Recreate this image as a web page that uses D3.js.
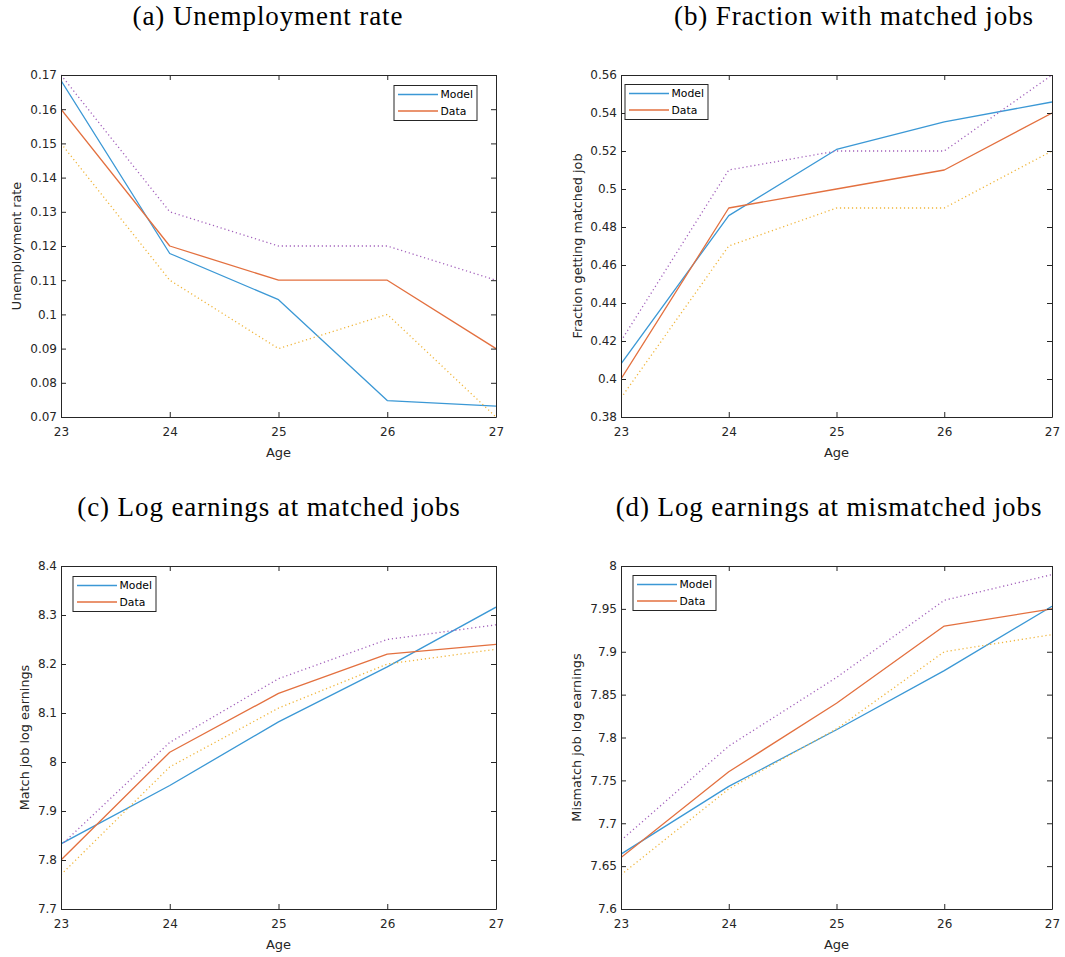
<!DOCTYPE html>
<html>
<head>
<meta charset="utf-8">
<script src="https://cdn.jsdelivr.net/npm/d3@7"></script>
<style>
  html, body { margin: 0; padding: 0; background: #fff; }
  svg { display: block; }
</style>
</head>
<body>
<svg id="fig" width="1065" height="957"></svg>
<script>
// Ages on the horizontal axis (shared by all panels)
const ages = [23, 24, 25, 26, 27];
const ageTicks = [23, 24, 25, 26, 27];

// (a) Unemployment rate
const unempModel = [0.1684, 0.1178, 0.1043, 0.0748, 0.0732];
const unempData  = [0.16, 0.12, 0.11, 0.11, 0.09];
const unempLower = [0.15, 0.11, 0.09, 0.10, 0.07];
const unempUpper = [0.17, 0.13, 0.12, 0.12, 0.11];
const unempTicks = [0.07, 0.08, 0.09, 0.10, 0.11, 0.12, 0.13, 0.14, 0.15, 0.16, 0.17];

// (b) Fraction getting matched job
const matchModel = [0.408, 0.486, 0.5208, 0.5353, 0.5458];
const matchData  = [0.40, 0.49, 0.50, 0.51, 0.54];
const matchLower = [0.39, 0.47, 0.49, 0.49, 0.52];
const matchUpper = [0.42, 0.51, 0.52, 0.52, 0.56];
const matchTicks = [0.38, 0.40, 0.42, 0.44, 0.46, 0.48, 0.50, 0.52, 0.54, 0.56];

// (c) Log earnings at matched jobs
const matchEarnModel = [7.833, 7.952, 8.082, 8.194, 8.316];
const matchEarnData  = [7.80, 8.02, 8.14, 8.22, 8.24];
const matchEarnLower = [7.77, 7.99, 8.11, 8.20, 8.23];
const matchEarnUpper = [7.83, 8.04, 8.17, 8.25, 8.28];
const matchEarnTicks = [7.7, 7.8, 7.9, 8.0, 8.1, 8.2, 8.3, 8.4];

// (d) Log earnings at mismatched jobs
const mismatchEarnModel = [7.664, 7.743, 7.809, 7.878, 7.953];
const mismatchEarnData  = [7.66, 7.76, 7.84, 7.93, 7.95];
const mismatchEarnLower = [7.64, 7.74, 7.81, 7.90, 7.92];
const mismatchEarnUpper = [7.68, 7.79, 7.87, 7.96, 7.99];
const mismatchEarnTicks = [7.6, 7.65, 7.7, 7.75, 7.8, 7.85, 7.9, 7.95, 8.0];

const legendLabels = ["Model", "Data"];

// Line styles: model, data, lower band, upper band
const styles = {
  model: { color: "#3b98d5", dash: null },
  data:  { color: "#e3703f", dash: null },
  lower: { color: "#f0b53a", dash: "1.2,2.8" },
  upper: { color: "#a260bb", dash: "1.2,2.8" }
};

// Panel layout
const panels = [
  { title: "(a) Unemployment rate", titleX: 268, titleY: 25,
    ylabel: "Unemployment rate", ylabelX: 17,
    box: { x0: 61, x1: 496, y0: 75, y1: 417 },
    domain: [0.07, 0.17], ticks: unempTicks,
    series: { model: unempModel, data: unempData, lower: unempLower, upper: unempUpper },
    legend: { side: "right", dx: 19, dy: 10.5 } },
  { title: "(b) Fraction with matched jobs", titleX: 854, titleY: 25,
    ylabel: "Fraction getting matched job", ylabelX: 578,
    box: { x0: 621, x1: 1052, y0: 75, y1: 417 },
    domain: [0.38, 0.56], ticks: matchTicks,
    series: { model: matchModel, data: matchData, lower: matchLower, upper: matchUpper },
    legend: { side: "left", dx: 4, dy: 9.5 } },
  { title: "(c) Log earnings at matched jobs", titleX: 269, titleY: 516,
    ylabel: "Match job log earnings", ylabelX: 25,
    box: { x0: 61, x1: 496, y0: 566, y1: 909 },
    domain: [7.7, 8.4], ticks: matchEarnTicks,
    series: { model: matchEarnModel, data: matchEarnData, lower: matchEarnLower, upper: matchEarnUpper },
    legend: { side: "left", dx: 12, dy: 10.5 } },
  { title: "(d) Log earnings at mismatched jobs", titleX: 829, titleY: 516,
    ylabel: "Mismatch job log earnings", ylabelX: 577,
    box: { x0: 621, x1: 1052, y0: 566, y1: 909 },
    domain: [7.6, 8.0], ticks: mismatchEarnTicks,
    series: { model: mismatchEarnModel, data: mismatchEarnData, lower: mismatchEarnLower, upper: mismatchEarnUpper },
    legend: { side: "left", dx: 12, dy: 9.5 } }
];

const svg = d3.select("#fig");
const axisColor = "#262626";
const sansFont = "'DejaVu Sans', 'Liberation Sans', Arial, sans-serif";
const fmt = d3.format("~g");
const tickLen = 5;

panels.forEach((p, i) => {
  const b = p.box;
  const x = d3.scaleLinear().domain([23, 27]).range([b.x0, b.x1]);
  const y = d3.scaleLinear().domain(p.domain).range([b.y1, b.y0]);
  const g = svg.append("g");

  // Title
  svg.append("text")
    .attr("x", p.titleX).attr("y", p.titleY)
    .attr("text-anchor", "middle")
    .attr("font-family", "'Liberation Serif', 'DejaVu Serif', serif")
    .attr("font-size", 27)
    .attr("letter-spacing", 0.9)
    .attr("fill", "#000")
    .text(p.title);

  // Clip region for the data lines
  const clipId = "clip" + i;
  svg.append("clipPath").attr("id", clipId)
    .append("rect")
    .attr("x", b.x0).attr("y", b.y0 - 1)
    .attr("width", b.x1 - b.x0).attr("height", b.y1 - b.y0 + 2);

  // Data lines: model, data, lower band, upper band
  const line = d3.line().x((d, k) => x(ages[k])).y(d => y(d));
  const lineG = g.append("g").attr("clip-path", `url(#${clipId})`);
  ["model", "data", "lower", "upper"].forEach(key => {
    const s = styles[key];
    lineG.append("path")
      .datum(p.series[key])
      .attr("d", line)
      .attr("fill", "none")
      .attr("stroke", s.color)
      .attr("stroke-width", 1.3)
      .attr("stroke-dasharray", s.dash)
      .attr("stroke-linejoin", "round");
  });

  // Axes (bottom, left) with inward ticks, plus mirrored ticks on top/right
  const bottomAxis = d3.axisBottom(x).tickValues(ageTicks).tickFormat(fmt)
    .tickSizeInner(-tickLen).tickSizeOuter(0).tickPadding(10);
  const leftAxis = d3.axisLeft(y).tickValues(p.ticks).tickFormat(fmt)
    .tickSizeInner(-tickLen).tickSizeOuter(0).tickPadding(4);
  const topAxis = d3.axisTop(x).tickValues(ageTicks).tickFormat("")
    .tickSizeInner(-tickLen).tickSizeOuter(0);
  const rightAxis = d3.axisRight(y).tickValues(p.ticks).tickFormat("")
    .tickSizeInner(-tickLen).tickSizeOuter(0);

  const styleAxis = sel => {
    sel.selectAll("path").attr("stroke", axisColor).attr("stroke-width", 1);
    sel.selectAll("line").attr("stroke", axisColor).attr("stroke-width", 1);
    sel.selectAll("text").attr("fill", axisColor)
      .attr("font-family", sansFont).attr("font-size", 12);
  };

  g.append("g").attr("transform", `translate(0,${b.y1})`).call(bottomAxis).call(styleAxis);
  g.append("g").attr("transform", `translate(${b.x0},0)`).call(leftAxis).call(styleAxis);
  g.append("g").attr("transform", `translate(0,${b.y0})`).call(topAxis).call(styleAxis);
  g.append("g").attr("transform", `translate(${b.x1},0)`).call(rightAxis).call(styleAxis);

  // Axis labels
  g.append("text")
    .attr("x", (b.x0 + b.x1) / 2).attr("y", b.y1 + 40)
    .attr("text-anchor", "middle")
    .attr("font-family", sansFont).attr("font-size", 13)
    .attr("fill", axisColor)
    .text("Age");

  g.append("text")
    .attr("transform", `translate(${p.ylabelX},${(b.y0 + b.y1) / 2}) rotate(-90)`)
    .attr("dy", "0.35em")
    .attr("text-anchor", "middle")
    .attr("font-family", sansFont).attr("font-size", 12.8)
    .attr("fill", axisColor)
    .text(p.ylabel);

  // Legend
  const lw = 83, lh = 35;
  const lx = p.legend.side === "right" ? b.x1 - p.legend.dx - lw : b.x0 + p.legend.dx;
  const ly = b.y0 + p.legend.dy;
  const leg = g.append("g").attr("transform", `translate(${lx},${ly})`);
  leg.append("rect")
    .attr("width", lw).attr("height", lh)
    .attr("fill", "#fff").attr("stroke", axisColor).attr("stroke-width", 1);
  legendLabels.forEach((lab, k) => {
    const key = k === 0 ? "model" : "data";
    const yy = 9 + k * 16.5;
    leg.append("line")
      .attr("x1", 4).attr("x2", 44).attr("y1", yy).attr("y2", yy)
      .attr("stroke", styles[key].color).attr("stroke-width", 1.3);
    leg.append("text")
      .attr("x", 46.5).attr("y", yy).attr("dy", "0.36em")
      .attr("font-family", sansFont).attr("font-size", 10.8)
      .attr("fill", "#000")
      .text(lab);
  });
});
</script>
</body>
</html>
